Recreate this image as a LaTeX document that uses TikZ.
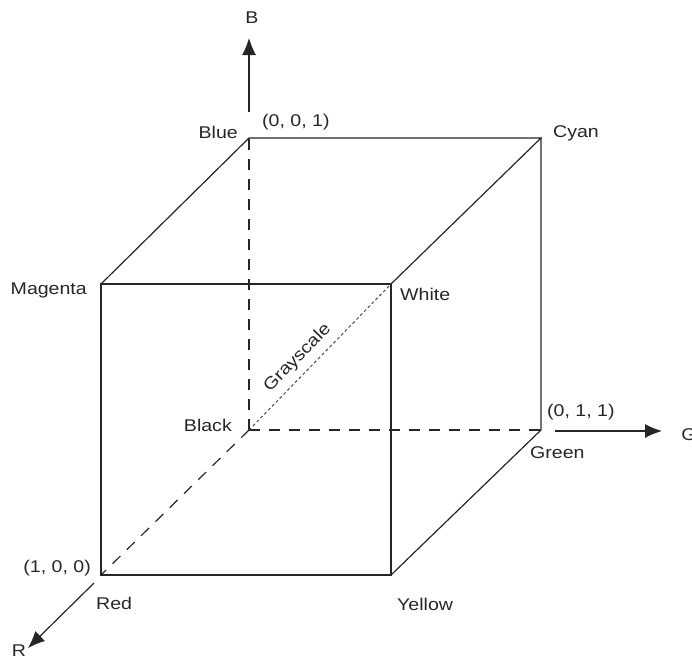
\documentclass[tikz,border=0pt]{standalone}
\usepackage{fontspec}
\setmainfont[FakeStretch=1.15]{Liberation Sans}
\usetikzlibrary{arrows.meta}
\begin{document}
\begin{tikzpicture}[
    x=1pt, y=-1pt,
    edge/.style={line width=1.2pt, black!85},
    hidden/.style={edge, dash pattern=on 11pt off 9pt},
    grayline/.style={line width=1pt, black!70, dash pattern=on 3pt off 2.5pt},
    axis/.style={-{Latex[length=17pt,width=14pt]}, line width=1.2pt, black!85},
    lbl/.style={font=\fontsize{17}{20}\selectfont, text=black!85, inner sep=0pt},
]
\useasboundingbox (0,0) rectangle (692,662);

% Corners of the cube: front face first, then the back face.
\coordinate (red) at (101,575);
\coordinate (yellow) at (391,575);
\coordinate (white) at (391,284);
\coordinate (magenta) at (101,284);
\coordinate (black) at (249,430);
\coordinate (green) at (541,430);
\coordinate (cyan) at (541,138);
\coordinate (blue) at (249,138);

% Free ends of the three axes.
\coordinate (b0) at (249,112);
\coordinate (b1) at (249,38);
\coordinate (g0) at (555,431);
\coordinate (g1) at (662,431);
\coordinate (r0) at (94,583);
\coordinate (r1) at (28,648);

% Hidden edges out of the black corner.
\draw[hidden] (black) -- (red);
\draw[hidden] (black) -- ([yshift=7pt]blue);
\draw[hidden] (black) -- (green);

% Visible edges.
\draw[edge] (red) -- (yellow) -- (white) -- (magenta) -- cycle;
\draw[edge] (magenta) -- (blue) -- (cyan) -- (white);
\draw[edge] (cyan) -- (green) -- (yellow);

% Gray line along the diagonal.
\draw[grayline] (black) -- node[lbl, pos=0.42, above=7pt, sloped] {Grayscale} (white);

% Axes.
\draw[axis] (b0) -- (b1);
\draw[axis] (g0) -- (g1);
\draw[axis] (r0) -- (r1);

\node[lbl] (blab) at (252,18) {B};
\node[lbl] (glab) at (689,435) {G};
\node[lbl] (rlab) at (19,651) {R};

% Corner labels.
\node[lbl, anchor=east] (lblue) at (238,132) {Blue};
\node[lbl, anchor=west] (lb001) at (262,122) {(0, 0, 1)};
\node[lbl, anchor=west] (lcyan) at (553,133) {Cyan};
\node[lbl, anchor=east] (lmagenta) at (87,290) {Magenta};
\node[lbl, anchor=west] (lwhite) at (400,294) {White};
\node[lbl, anchor=east] (lblack) at (232,425) {Black};
\node[lbl, anchor=west] (lg011) at (547,412) {(0, 1, 1)};
\node[lbl, anchor=west] (lgreen) at (530,453) {Green};
\node[lbl, anchor=east] (lr100) at (91,568) {(1, 0, 0)};
\node[lbl, anchor=west] (lred) at (96,603) {Red};
\node[lbl, anchor=west] (lyellow) at (397,604) {Yellow};
\end{tikzpicture}
\end{document}
